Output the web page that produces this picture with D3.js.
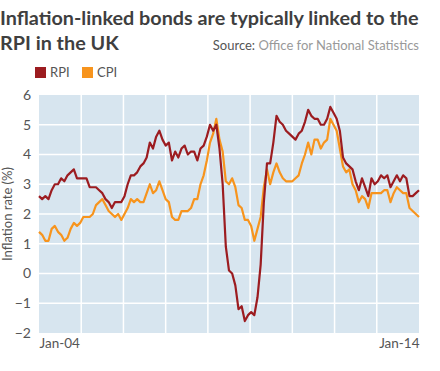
<!DOCTYPE html>
<meta charset="utf-8">
<style>
body { margin: 0; background: #fff; font-family: "Lato", "Open Sans", sans-serif; }
.tick text { fill: #555; }
</style>
<body>
<script src="https://cdnjs.cloudflare.com/ajax/libs/d3/7.8.5/d3.min.js"></script>
<script>

// monthly 12-month rates, Jan 2004 .. Jan 2014
var rpi = [
  2.6, 2.5, 2.6, 2.5, 2.8, 3.0, 3.0, 3.2, 3.1, 3.3, 3.4, 3.5,
  3.2, 3.2, 3.2, 3.2, 2.9, 2.9, 2.9, 2.8, 2.7, 2.5, 2.4, 2.2,
  2.4, 2.4, 2.4, 2.6, 3.0, 3.3, 3.3, 3.4, 3.6, 3.7, 3.9, 4.4,
  4.2, 4.6, 4.8, 4.5, 4.3, 4.4, 3.8, 4.1, 3.9, 4.2, 4.3, 4.0,
  4.1, 4.1, 3.8, 4.2, 4.3, 4.6, 5.0, 4.8, 5.0, 4.2, 3.0, 0.9,
  0.1, 0.0, -0.4, -1.2, -1.1, -1.6, -1.4, -1.3, -1.4, -0.8, 0.3, 2.4,
  3.7, 3.7, 4.4, 5.3, 5.1, 5.0, 4.8, 4.7, 4.6, 4.5, 4.7, 4.8,
  5.1, 5.5, 5.3, 5.2, 5.2, 5.0, 5.0, 5.2, 5.6, 5.4, 5.2, 4.8,
  3.9, 3.7, 3.6, 3.5, 3.1, 2.8, 3.2, 2.9, 2.6, 3.2, 3.0, 3.1,
  3.3, 3.2, 3.3, 2.9, 3.1, 3.3, 3.1, 3.3, 3.2, 2.6, 2.6, 2.7,
  2.8
];
var cpi = [
  1.4, 1.3, 1.1, 1.1, 1.5, 1.6, 1.4, 1.3, 1.1, 1.2, 1.5, 1.7,
  1.6, 1.7, 1.9, 1.9, 1.9, 2.0, 2.3, 2.4, 2.5, 2.3, 2.1, 2.0,
  1.9, 2.0, 1.8, 2.0, 2.2, 2.5, 2.4, 2.5, 2.4, 2.4, 2.7, 3.0,
  2.7, 2.8, 3.1, 2.8, 2.5, 2.4, 1.9, 1.8, 1.8, 2.1, 2.1, 2.1,
  2.2, 2.5, 2.5, 3.0, 3.3, 3.8, 4.4, 4.7, 5.2, 4.5, 4.1, 3.1,
  3.0, 3.2, 2.9, 2.3, 2.2, 1.8, 1.8, 1.6, 1.1, 1.5, 1.9, 2.9,
  3.5, 3.0, 3.4, 3.7, 3.4, 3.2, 3.1, 3.1, 3.1, 3.2, 3.3, 3.7,
  4.0, 4.4, 4.0, 4.5, 4.5, 4.2, 4.4, 4.5, 5.2, 5.0, 4.8, 4.2,
  3.6, 3.4, 3.5, 3.0, 2.8, 2.4, 2.6, 2.5, 2.2, 2.7, 2.7, 2.7,
  2.7, 2.8, 2.8, 2.4, 2.7, 2.9, 2.8, 2.7, 2.7, 2.2, 2.1, 2.0,
  1.9
];
var xLabels = ["Jan-04", "Jan-14"];
var yTicks = [-2, -1, 0, 1, 2, 3, 4, 5, 6];
var series = [
  {name: "RPI", values: rpi, color: "#9c1c20"},
  {name: "CPI", values: cpi, color: "#f7941d"}
];

var width = 440, height = 371;
var margin = {top: 95, right: 21, bottom: 38, left: 39},
    w = width - margin.left - margin.right,
    h = height - margin.top - margin.bottom;

var svg = d3.select("body").append("svg")
    .attr("width", width)
    .attr("height", height);

// titles
svg.append("text")
    .attr("x", 0).attr("y", 25)
    .style("font-size", "19.8px").style("font-weight", "bold").style("fill", "#3f3f3f")
    .text("Inflation-linked bonds are typically linked to the");
svg.append("text")
    .attr("x", 0).attr("y", 50)
    .style("font-size", "19.8px").style("font-weight", "bold").style("fill", "#3f3f3f")
    .text("RPI in the UK");

var src = svg.append("text")
    .attr("x", 419).attr("y", 50)
    .attr("text-anchor", "end")
    .style("font-size", "13px");
src.append("tspan").style("fill", "#555").text("Source: ");
src.append("tspan").style("fill", "#999").text("Office for National Statistics");

// legend
var legend = svg.selectAll(".legend")
    .data(series)
  .enter().append("g")
    .attr("class", "legend")
    .attr("transform", function(d, i) { return "translate(" + (35 + i * 47) + ",67)"; });

legend.append("rect")
    .attr("width", 11).attr("height", 11)
    .style("fill", function(d) { return d.color; });

legend.append("text")
    .attr("x", 15).attr("y", 10)
    .style("font-size", "13px").style("fill", "#555")
    .text(function(d) { return d.name; });

var g = svg.append("g")
    .attr("transform", "translate(" + margin.left + "," + margin.top + ")");

var x = d3.scaleLinear()
    .domain([0, rpi.length - 1])
    .range([0, w]);

var y = d3.scaleLinear()
    .domain([-2, 6])
    .range([h, 0]);

g.append("rect")
    .attr("width", w).attr("height", h)
    .style("fill", "#d7e5ef");

// vertical gridlines: 9 equal columns
var gx = d3.scaleLinear().domain([0, 9]).range([0, w]);
g.selectAll(".vgrid")
    .data(d3.range(1, 9))
  .enter().append("line")
    .attr("class", "vgrid")
    .attr("x1", gx).attr("x2", gx)
    .attr("y1", 0).attr("y2", h)
    .style("stroke", "#fff").style("stroke-width", 1.5);

g.selectAll(".hgrid")
    .data(yTicks.slice(1, -1))
  .enter().append("line")
    .attr("class", "hgrid")
    .attr("x1", 0).attr("x2", w)
    .attr("y1", y).attr("y2", y)
    .style("stroke", "#fff").style("stroke-width", 1.5);

// y axis
var yAxis = g.append("g")
    .call(d3.axisLeft(y).tickValues(yTicks).tickSize(0).tickPadding(8));
yAxis.select(".domain").remove();
yAxis.selectAll("text").style("font-size", "14px").style("font-family", "Lato, 'Open Sans', sans-serif");

// x axis labels at ends
var xAxis = g.append("g")
    .attr("transform", "translate(0," + h + ")")
    .call(d3.axisBottom(x).tickValues([0, rpi.length - 1])
      .tickFormat(function(d, i) { return xLabels[i]; })
      .tickSize(0).tickPadding(5));
xAxis.select(".domain").remove();
xAxis.selectAll("text")
    .style("font-size", "13.5px").style("font-family", "Lato, 'Open Sans', sans-serif")
    .attr("text-anchor", function(d, i) { return i === 0 ? "start" : "end"; });

svg.append("text")
    .attr("transform", "translate(12," + (margin.top + h / 2) + ")rotate(-90)")
    .attr("text-anchor", "middle")
    .style("font-size", "13px").style("fill", "#555")
    .text("Inflation rate (%)");

var line = d3.line()
    .x(function(d, i) { return x(i); })
    .y(function(d) { return y(d); });

// CPI under RPI
g.selectAll(".series")
    .data(series.slice().reverse())
  .enter().append("path")
    .attr("class", "series")
    .attr("d", function(d) { return line(d.values); })
    .style("fill", "none")
    .style("stroke", function(d) { return d.color; })
    .style("stroke-width", 2.2)
    .style("stroke-linejoin", "round");

</script>
